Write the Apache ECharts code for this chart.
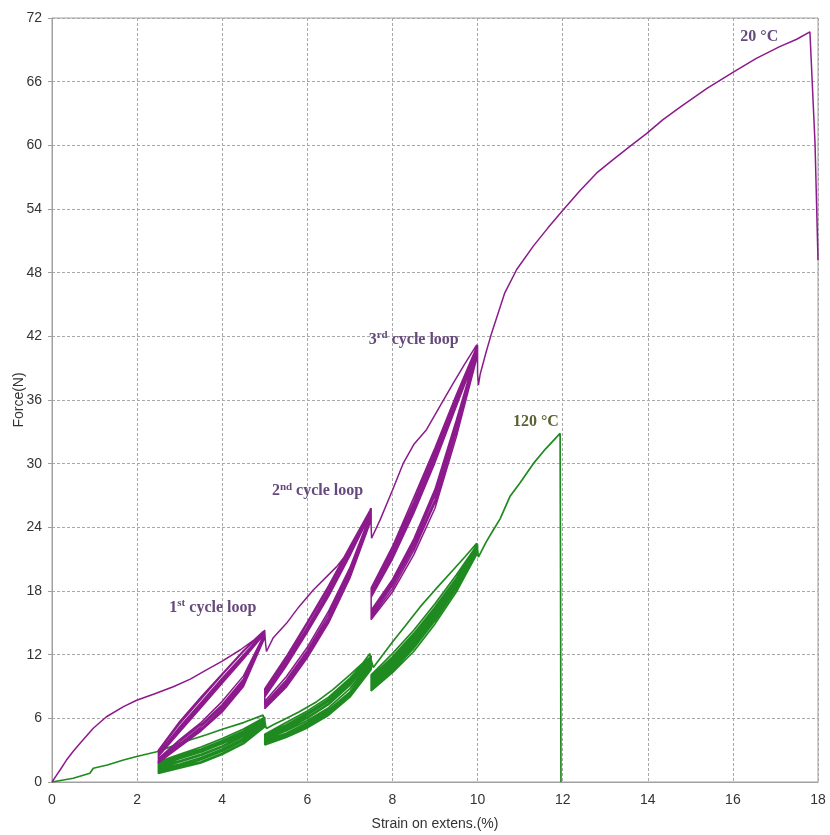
<!DOCTYPE html>
<html><head><meta charset="utf-8">
<script src="https://cdn.jsdelivr.net/npm/echarts@6/dist/echarts.min.js"></script>
<style>html,body{margin:0;padding:0;background:#fff}#c{width:830px;height:835px}</style>
</head><body><div id="c"></div>
<script>
// ---------- axes ----------
const xMin = 0, xMax = 18, xStep = 2;
const yMin = 0, yMax = 72, yStep = 6;
const xTitle = 'Strain on extens.(%)';
const yTitle = 'Force(N)';

// ---------- 20 °C (purple) ----------
const p20EnvA = [[0,0],[0.1,0.6],[0.19,1.13],[0.34,2.07],[0.5,2.9],[0.66,3.65],[0.97,5.06],[1.28,6.15],[1.68,7.1],[1.99,7.7],[2.4,8.3],[2.85,8.98],[3.25,9.7],[3.63,10.56],[4.0,11.4],[4.42,12.44],[4.75,13.4],[4.96,14.17]];
const p20EnvB = [[5.02,13.0],[5.04,12.3],[5.2,13.6],[5.51,14.95],[5.8,16.5],[6.14,18.1],[6.69,20.3],[7.1,22.4],[7.47,25.6],[7.49,25.8]];
const p20EnvC = [[7.5,24.0],[7.51,22.97],[7.71,24.7],[8.0,27.5],[8.25,30.0],[8.5,31.8],[8.8,33.2],[9.1,35.3],[9.43,37.6],[9.7,39.4],[9.98,41.2]];
const p20EnvD = [[10.0,38.5],[10.02,37.4],[10.06,38.4],[10.2,40.5],[10.33,42.3],[10.64,46.1],[10.92,48.3],[11.31,50.5],[11.65,52.2],[12.01,53.9],[12.4,55.7],[12.8,57.4],[13.2,58.7],[13.58,59.9],[13.97,61.1],[14.35,62.4],[14.76,63.6],[15.4,65.4],[16.01,66.9],[16.55,68.2],[17.1,69.3],[17.5,70.0],[17.81,70.7],[17.93,60.2],[18.0,49.2]];

const loopX1 = [2.5,3,3.5,4,4.5,5];
const loopX2 = [5,5.5,6,6.5,7,7.5];
const loopX3 = [7.5,8,8.5,9,9.5,10];

const p20Loop1Up = [[2.6,5.0,7.3,9.6,11.9,14.2],[2.9,5.5,7.8,10.1,12.3,14.3],[2.4,4.7,7.0,9.3,11.6,14.0],[3.0,5.7,8.0,10.2,12.4,14.3],[2.7,5.2,7.5,9.8,12.0,14.2],[2.5,4.9,7.2,9.5,11.8,14.1]];
const p20Loop1Dn = [[1.9,3.5,5.0,6.9,9.3,13.8],[2.1,3.8,5.4,7.3,9.7,14.0],[1.8,3.3,4.8,6.6,9.0,13.6],[2.2,4.0,5.6,7.6,10.0,14.1],[2.0,3.6,5.2,7.1,9.5,13.9],[1.9,3.4,4.9,6.8,9.2,13.7]];
const p20Loop2Up = [[8.3,11.2,14.4,17.8,21.5,25.5],[8.6,11.6,14.9,18.3,22.0,25.7],[8.0,10.9,14.1,17.5,21.3,25.4],[8.8,11.8,15.1,18.5,22.2,25.8],[8.4,11.4,14.6,18.0,21.8,25.6],[8.1,11.0,14.2,17.6,21.4,25.4]];
const p20Loop2Dn = [[7.1,9.2,12.0,15.3,19.5,24.9],[7.4,9.6,12.4,15.8,19.9,25.2],[6.9,8.9,11.7,15.0,19.2,24.7],[7.6,9.9,12.7,16.1,20.2,25.3],[7.2,9.4,12.2,15.5,19.7,25.0],[7.0,9.0,11.8,15.1,19.3,24.8]];
const p20Loop3Up = [[17.8,21.4,25.8,30.6,35.8,40.8],[18.1,21.9,26.4,31.2,36.3,41.1],[17.4,21.0,25.3,30.1,35.4,40.6],[18.3,22.2,26.8,31.5,36.5,41.2],[17.9,21.6,26.1,30.9,36.0,40.9],[17.6,21.2,25.6,30.4,35.6,40.7]];
const p20Loop3Dn = [[15.5,18.2,21.8,26.3,33.0,40.5],[15.9,18.7,22.4,27.0,33.6,40.7],[15.3,17.9,21.4,25.8,32.5,40.2],[16.2,19.1,22.9,27.6,34.1,40.9],[15.7,18.5,22.1,26.6,33.3,40.6],[16.0,18.9,22.6,27.3,33.9,40.8]];

// ---------- 120 °C (green) ----------
const g120EnvA = [[0,0],[0.5,0.35],[0.89,0.82],[0.97,1.3],[1.3,1.6],[1.68,2.07],[1.99,2.4],[2.46,2.85],[2.85,3.4],[3.24,3.96],[3.63,4.45],[4.02,5.0],[4.5,5.6],[4.96,6.3]];
const g120EnvB = [[5.02,5.3],[5.04,5.04],[5.2,5.4],[5.43,5.84],[5.8,6.6],[6.22,7.57],[6.6,8.7],[7.0,10.1],[7.3,11.2],[7.47,12.1]];
const g120EnvC = [[7.52,11.5],[7.55,10.8],[8.0,13.2],[8.3,14.7],[8.65,16.5],[9.0,18.1],[9.43,20.0],[9.7,21.2],[9.98,22.5]];
const g120EnvD = [[10.02,21.2],[10.2,22.6],[10.37,23.75],[10.53,24.8],[10.76,26.9],[11.0,28.2],[11.31,30.0],[11.6,31.4],[11.94,32.85],[11.95,20.0],[11.96,0]];

const g120Loop1Up = [[1.8,2.5,3.1,3.9,4.8,6.0],[1.6,2.3,2.9,3.7,4.6,5.9],[1.9,2.6,3.3,4.1,5.0,6.1],[1.5,2.2,2.8,3.6,4.5,5.8],[1.7,2.4,3.0,3.8,4.7,5.95],[1.4,2.0,2.6,3.4,4.4,5.75]];
const g120Loop1Dn = [[1.0,1.5,2.1,2.9,3.9,5.4],[1.2,1.7,2.3,3.1,4.1,5.6],[0.9,1.4,1.9,2.7,3.7,5.3],[1.3,1.9,2.5,3.3,4.3,5.7],[1.1,1.6,2.2,3.0,4.0,5.5],[0.8,1.3,1.8,2.6,3.6,5.2]];
const g120Loop2Up = [[4.4,5.4,6.5,7.8,9.6,11.8],[4.2,5.2,6.3,7.6,9.4,11.7],[4.5,5.6,6.7,8.0,9.8,11.9],[4.1,5.1,6.1,7.4,9.2,11.6],[4.3,5.3,6.4,7.7,9.5,11.75],[4.0,4.95,6.0,7.3,9.1,11.5]];
const g120Loop2Dn = [[3.7,4.4,5.3,6.5,8.2,10.8],[3.9,4.6,5.6,6.8,8.5,11.1],[3.5,4.2,5.1,6.3,8.0,10.6],[4.0,4.8,5.8,7.0,8.8,11.3],[3.8,4.5,5.45,6.65,8.35,10.95],[3.6,4.3,5.2,6.4,8.1,10.7]];
const g120Loop3Up = [[9.9,11.8,14.0,16.5,19.2,22.3],[9.7,11.6,13.7,16.2,19.0,22.1],[10.1,12.1,14.3,16.8,19.5,22.4],[9.5,11.4,13.5,16.0,18.8,22.0],[9.8,11.7,13.85,16.35,19.1,22.2],[9.4,11.3,13.4,15.9,18.7,21.95]];
const g120Loop3Dn = [[8.8,10.5,12.6,15.2,18.2,21.8],[9.1,10.8,12.9,15.5,18.5,22.0],[8.6,10.3,12.3,14.9,17.9,21.6],[9.3,11.1,13.2,15.8,18.7,21.9],[8.9,10.65,12.75,15.35,18.35,21.9],[9.2,10.95,13.05,15.65,18.6,22.0]];

// ---------- annotations (data coords of text centres) ----------
const annoMain  = ['20 °C', '120 °C', '3', '2', '1'];
const annoSup   = ['', '', 'rd', 'nd', 'st'];
const annoTail  = ['', '', ' cycle loop', ' cycle loop', ' cycle loop'];
const annoX     = [16.62, 11.37, 8.5, 6.24, 3.78];
const annoY     = [70.3, 34.0, 41.8, 27.5, 16.5];
const annoColor = ['#674a7c', '#5a6332', '#674a7c', '#674a7c', '#674a7c'];

// ---------- build paths ----------
function cycles(xs, ups, dns) {
  const out = [];
  for (let k = 0; k < ups.length; k++) {
    for (let i = xs.length - 1; i >= 0; i--) out.push([xs[i], dns[k][i]]);
    for (let i = 0; i < xs.length; i++) out.push([xs[i], ups[k][i]]);
  }
  return out;
}
const purpleData = [].concat(
  p20EnvA, cycles(loopX1, p20Loop1Up, p20Loop1Dn),
  p20EnvB, cycles(loopX2, p20Loop2Up, p20Loop2Dn),
  p20EnvC, cycles(loopX3, p20Loop3Up, p20Loop3Dn),
  p20EnvD);
const greenData = [].concat(
  g120EnvA, cycles(loopX1, g120Loop1Up, g120Loop1Dn),
  g120EnvB, cycles(loopX2, g120Loop2Up, g120Loop2Dn),
  g120EnvC, cycles(loopX3, g120Loop3Up, g120Loop3Dn),
  g120EnvD);

const chart = echarts.init(document.getElementById('c'), null, {renderer: 'canvas'});
const axisFont = {fontFamily: 'Liberation Sans, Arial, sans-serif', fontSize: 14, color: '#333'};
chart.setOption({
  animation: false,
  backgroundColor: '#fff',
  grid: {left: 52, right: 12, top: 18, bottom: 53, show: true, borderColor: '#a0a0a0', borderWidth: 1,
         containLabel: false, outerBoundsMode: 'none'},
  xAxis: {
    type: 'value', min: xMin, max: xMax, interval: xStep,
    name: xTitle, nameLocation: 'middle', nameGap: 35, nameMoveOverlap: false,
    nameTextStyle: axisFont,
    axisLine: {lineStyle: {color: '#a0a0a0'}},
    axisTick: {show: false},
    axisLabel: Object.assign({margin: 11}, axisFont),
    splitLine: {lineStyle: {color: '#a8a8a8', type: [3, 2], width: 1}}
  },
  yAxis: {
    type: 'value', min: yMin, max: yMax, interval: yStep,
    name: yTitle, nameLocation: 'middle', nameGap: 26, nameMoveOverlap: false,
    nameTextStyle: axisFont,
    axisLine: {show: true, lineStyle: {color: '#a0a0a0'}},
    axisTick: {show: true, length: 4, lineStyle: {color: '#a0a0a0'}},
    axisLabel: Object.assign({margin: 10}, axisFont),
    splitLine: {lineStyle: {color: '#a8a8a8', type: [3, 2], width: 1}}
  },
  series: [
    {type: 'line', name: '120 °C', data: greenData, showSymbol: false, symbol: 'none',
     lineStyle: {color: '#1f8a1f', width: 1.7}, z: 3},
    {type: 'line', name: '20 °C', data: purpleData, showSymbol: false, symbol: 'none',
     lineStyle: {color: '#8c1a8c', width: 1.5}, z: 4}
  ]
});

const graphics = annoMain.map((m, i) => {
  const p = chart.convertToPixel({gridIndex: 0}, [annoX[i], annoY[i]]);
  const base = {fontFamily: 'Liberation Serif, Times New Roman, serif', fontWeight: 'bold', fontSize: 16, color: annoColor[i]};
  return {
    type: 'text', x: p[0], y: p[1], z: 10,
    style: {
      text: '{b|' + m + '}' + (annoSup[i] ? '{s|' + annoSup[i] + '}' : '') + (annoTail[i] ? '{b|' + annoTail[i] + '}' : ''),
      align: 'center', verticalAlign: 'middle',
      rich: {
        b: Object.assign({}, base, {lineHeight: 18, verticalAlign: 'bottom'}),
        s: Object.assign({}, base, {fontSize: 11, verticalAlign: 'top', lineHeight: 12})
      },
      fill: annoColor[i]
    }
  };
});
chart.setOption({graphic: graphics});
</script>
</body></html>
